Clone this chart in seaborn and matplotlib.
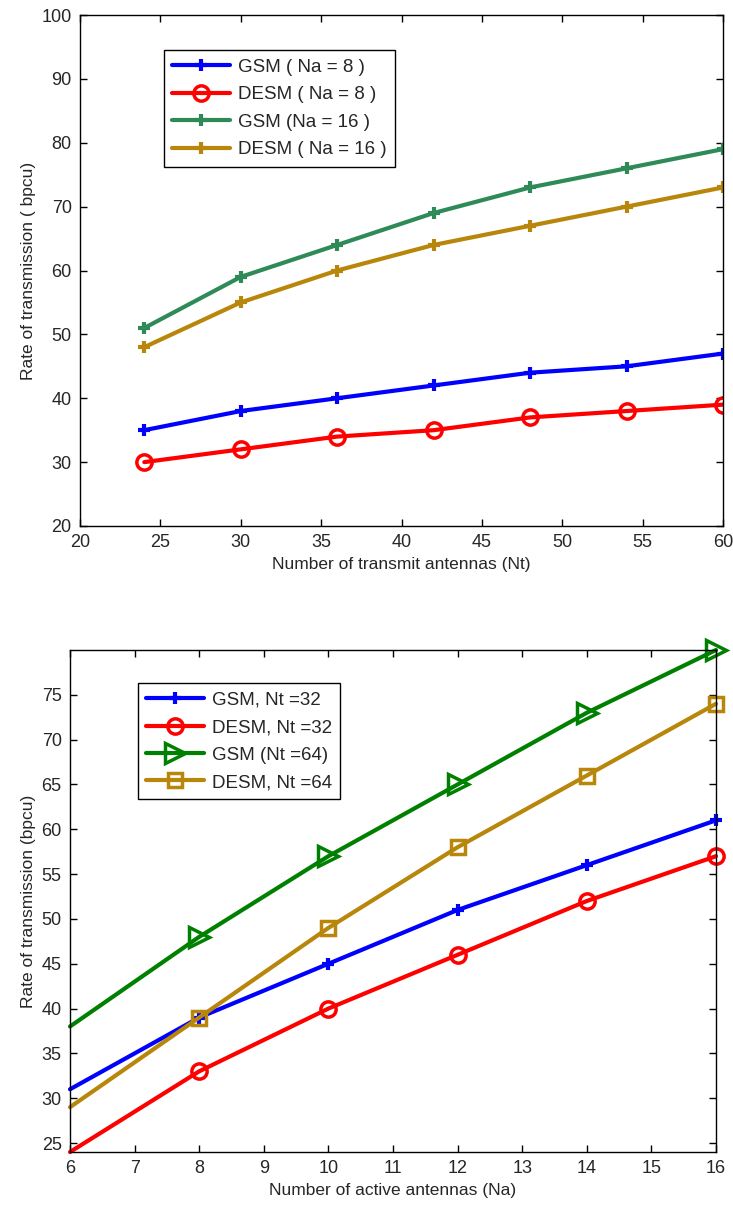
import matplotlib
matplotlib.use('Agg')
import matplotlib.pyplot as plt
import seaborn as sns
import numpy as np

# top panel: rate vs number of transmit antennas
nt = [24, 30, 36, 42, 48, 54, 60]
gsm_na8 = [35, 38, 40, 42, 44, 45, 47]
desm_na8 = [30, 32, 34, 35, 37, 38, 39]
gsm_na16 = [51, 59, 64, 69, 73, 76, 79]
desm_na16 = [48, 55, 60, 64, 67, 70, 73]

# bottom panel: rate vs number of active antennas
na = [6, 8, 10, 12, 14, 16]
gsm_nt32 = [31, 39, 45, 51, 56, 61]
desm_nt32 = [24, 33, 40, 46, 52, 57]
gsm_nt64 = [38, 48, 57, 65, 73, 80]
desm_nt64 = [29, 39, 49, 58, 66, 74]

sns.set_style('ticks')
plt.rcParams['font.family'] = ['Liberation Sans', 'DejaVu Sans']
plt.rcParams['xtick.direction'] = 'in'
plt.rcParams['ytick.direction'] = 'in'
plt.rcParams['xtick.top'] = True
plt.rcParams['ytick.right'] = True

fig = plt.figure(figsize=(7.33, 12.07), dpi=100)
W, H = 733, 1207
ax1 = fig.add_axes([80 / W, 1 - 526 / H, (723 - 80) / W, (526 - 15) / H])
ax2 = fig.add_axes([70 / W, 1 - 1152 / H, (716 - 70) / W, (1152 - 650) / H])

lw = 3
leg_kw = dict(loc='upper left', fontsize=13.5, frameon=True, fancybox=False,
              edgecolor='black', framealpha=1, handlelength=3.1,
              handletextpad=0.4, borderpad=0.45, labelspacing=0.55,
              borderaxespad=0)

top_series = [
    (gsm_na8, 'GSM ( Na = 8 )', '#0000ff', '+', dict(ms=8, mew=3)),
    (desm_na8, 'DESM ( Na = 8 )', '#ff0000', 'o', dict(ms=11, mew=2.5, mfc='none')),
    (gsm_na16, 'GSM (Na = 16 )', '#2e8b57', '+', dict(ms=8, mew=3)),
    (desm_na16, 'DESM ( Na = 16 )', '#b8860b', '+', dict(ms=8, mew=3)),
]
for y, lab, col, mk, kw in top_series:
    sns.lineplot(x=nt, y=y, ax=ax1, color=col, lw=lw, marker=mk, mec=col,
                 label=lab, **kw)

ax1.set_xlim(20, 60)
ax1.set_ylim(20, 100)
ax1.set_xticks(np.arange(20, 61, 5))
ax1.set_yticks(np.arange(20, 101, 10))
ax1.set_xlabel('Number of transmit antennas (Nt)', fontsize=12.5, labelpad=4)
ax1.set_ylabel('Rate of transmission ( bpcu)', fontsize=12.5)
ax1.legend(bbox_to_anchor=(0.13, 0.931), **leg_kw)

bot_series = [
    (gsm_nt32, 'GSM, Nt =32', '#0000ff', '+', dict(ms=8, mew=3)),
    (desm_nt32, 'DESM, Nt =32', '#ff0000', 'o', dict(ms=11, mew=2.5, mfc='none')),
    (gsm_nt64, 'GSM (Nt =64)', '#008000', '>', dict(ms=14, mew=2.5, mfc='none')),
    (desm_nt64, 'DESM, Nt =64', '#b8860b', 's', dict(ms=10, mew=2.5, mfc='none')),
]
for y, lab, col, mk, kw in bot_series:
    sns.lineplot(x=na, y=y, ax=ax2, color=col, lw=lw, marker=mk, mec=col,
                 label=lab, markevery=slice(1, None), clip_on=False, **kw)

ax2.set_xlim(6, 16)
ax2.set_ylim(24, 80)
ax2.set_xticks(np.arange(6, 17, 1))
ax2.set_yticks(np.arange(25, 76, 5))
ax2.set_xlabel('Number of active antennas (Na)', fontsize=12.5, labelpad=4)
ax2.set_ylabel('Rate of transmission (bpcu)', fontsize=12.5)
ax2.legend(bbox_to_anchor=(0.105, 0.934), **leg_kw)

for ax in (ax1, ax2):
    ax.tick_params(labelsize=13, length=5, width=1, color='black', pad=6)
    for s in ax.spines.values():
        s.set_linewidth(1)
        s.set_color('black')
        s.set_visible(True)

fig.savefig('out.png', dpi=100)
